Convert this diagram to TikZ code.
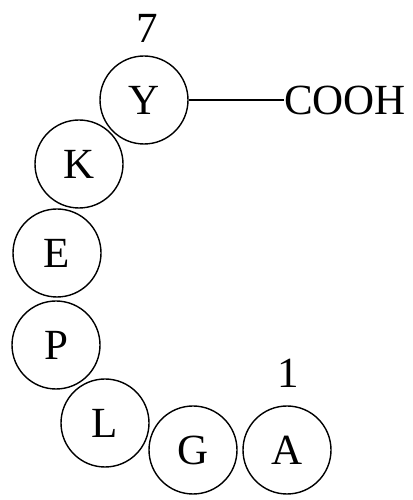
\documentclass[tikz,border=0pt]{standalone}
\usepackage{fontspec}
\setmainfont{Liberation Serif}
\usetikzlibrary{positioning}

\begin{document}
\begin{tikzpicture}[x=1pt,y=1pt,
    residue/.style={draw,circle,line width=1.4pt,minimum size=88pt,inner sep=0pt,
        font=\fontsize{43}{50}\selectfont},
    tag/.style={inner sep=0pt,font=\fontsize{43}{50}\selectfont}]
    \useasboundingbox (0,0) rectangle (412,500);

    % Chain of residues
    \node[residue] (resY) at (144,400) {Y};
    \node[residue] (resK) at (79,336) {K};
    \node[residue] (resE) at (57,247) {E};
    \node[residue] (resP) at (56,155) {P};
    \node[residue] (resL) at (105,77) {L};
    \node[residue] (resG) at (193,50) {G};
    \node[residue] (resA) at (287,50) {A};

    % Numbering
    \node[tag] (num7) at (147,472) {7};
    \node[tag] (num1) at (288,127) {1};

    % C terminus
    \node[tag,anchor=west] (cooh) at (284,400) {COOH};
    \draw[line width=1.4pt] (resY.east) -- (cooh.west);
\end{tikzpicture}
\end{document}
